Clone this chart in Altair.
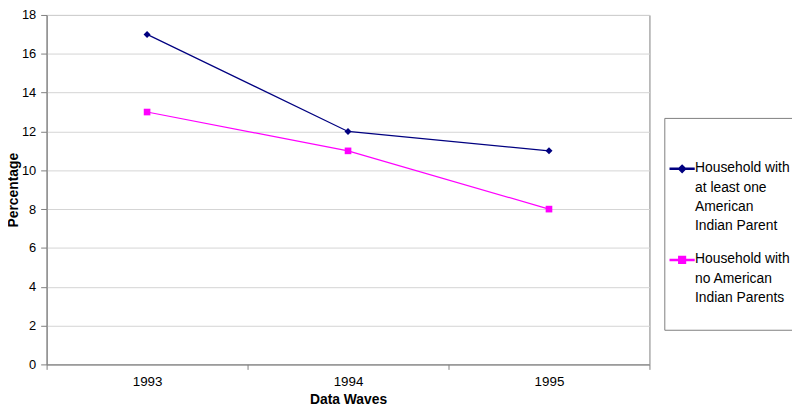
import altair as alt
import pandas as pd

years = ["1993", "1994", "1995"]
series_names = [
    "Household with at least one American Indian Parent",
    "Household with no American Indian Parents",
]
values_one = [17, 12, 11]
values_none = [13, 11, 8]

rows = []
for y, v in zip(years, values_one):
    rows.append({"year": y, "series": series_names[0], "pct": v})
for y, v in zip(years, values_none):
    rows.append({"year": y, "series": series_names[1], "pct": v})
df = pd.DataFrame(rows)

colors = ["#000080", "#FF00FF"]
FONT = "Liberation Sans"

dy = 0.62
legend_paths = [
    f"M-1,{dy-0.045}L1,{dy-0.045}L1,{dy+0.045}L-1,{dy+0.045}Z"
    f"M0,{dy-0.3}L0.3,{dy}L0,{dy+0.3}L-0.3,{dy}Z",
    f"M-1,{dy-0.045}L1,{dy-0.045}L1,{dy+0.045}L-1,{dy+0.045}Z"
    f"M-0.28,{dy-0.28}L0.28,{dy-0.28}L0.28,{dy+0.28}L-0.28,{dy+0.28}Z",
]

xenc = alt.X(
    "year:N",
    scale=alt.Scale(type="band", paddingInner=0, paddingOuter=0),
    axis=alt.Axis(
        title="Data Waves",
        tickBand="extent",
        labelAngle=0,
        labelFont=FONT,
        labelFontSize=13.5,
        labelColor="#000000",
        labelPadding=5,
        titleFont=FONT,
        titleFontSize=14,
        titleFontWeight="bold",
        titleColor="#000000",
        titlePadding=5,
        domainColor="#808080",
        tickColor="#808080",
        tickSize=5,
        grid=False,
    ),
)
yenc = alt.Y(
    "pct:Q",
    scale=alt.Scale(domain=[0, 18], nice=False),
    axis=alt.Axis(
        title="Percentage",
        values=list(range(0, 19, 2)),
        labelFont=FONT,
        labelFontSize=13,
        labelColor="#000000",
        labelPadding=5,
        titleFont=FONT,
        titleFontSize=14,
        titleFontWeight="bold",
        titleColor="#000000",
        titlePadding=1,
        domainColor="#808080",
        tickColor="#808080",
        tickSize=6,
        gridColor="#d4d4d4",
    ),
)
cscale = alt.Scale(domain=series_names, range=colors)

lines = alt.Chart(df).mark_line(strokeWidth=1.2).encode(
    x=xenc, y=yenc, color=alt.Color("series:N", scale=cscale)
)
pts1 = alt.Chart(df).transform_filter(
    alt.datum.series == series_names[0]
).mark_point(filled=True, opacity=1, shape="diamond", size=50).encode(
    x=xenc, y=yenc, color=alt.Color("series:N", scale=cscale)
)
pts2 = alt.Chart(df).transform_filter(
    alt.datum.series == series_names[1]
).mark_point(filled=True, opacity=1, shape="square", size=45).encode(
    x=xenc, y=yenc, color=alt.Color("series:N", scale=cscale)
)

label_expr = (
    "datum.label == '" + series_names[0] + "' ? "
    "['Household with', 'at least one', 'American', 'Indian Parent'] : "
    "['Household with', 'no American', 'Indian Parents', '']"
)

legend_layer = alt.Chart(df).mark_point(filled=True, opacity=0).encode(
    x=xenc,
    y=yenc,
    color=alt.Color(
        "series:N",
        scale=cscale,
        legend=alt.Legend(
            orient="none",
            legendX=624,
            legendY=104,
            title=" ",
            titleFontSize=10,
            titlePadding=16,
            labelExpr=label_expr,
            labelFont=FONT,
            labelFontSize=14,
            labelColor="#000000",
            labelBaseline="top",
            labelOffset=0,
            labelLimit=200,
            symbolSize=576,
            symbolOpacity=1,
            rowPadding=6,
            padding=5,
            strokeColor="#808080",
            fillColor="#ffffff",
        ),
    ),
    shape=alt.Shape("series:N", scale=alt.Scale(domain=series_names, range=legend_paths)),
)

chart = (
    alt.layer(lines, pts1, pts2, legend_layer)
    .properties(
        width=609,
        height=353,
        autosize=alt.AutoSizeParams(type="none"),
        padding={"left": 39, "top": 5, "right": 144, "bottom": 42},
    )
    .configure(
        background="#ffffff",
        style={"guide-label": {"lineHeight": 19.5}},
        view=alt.ViewConfig(stroke="#808080", strokeWidth=1),
    )
)

chart.save("out.html", embed_options={"renderer": "svg", "actions": False})
